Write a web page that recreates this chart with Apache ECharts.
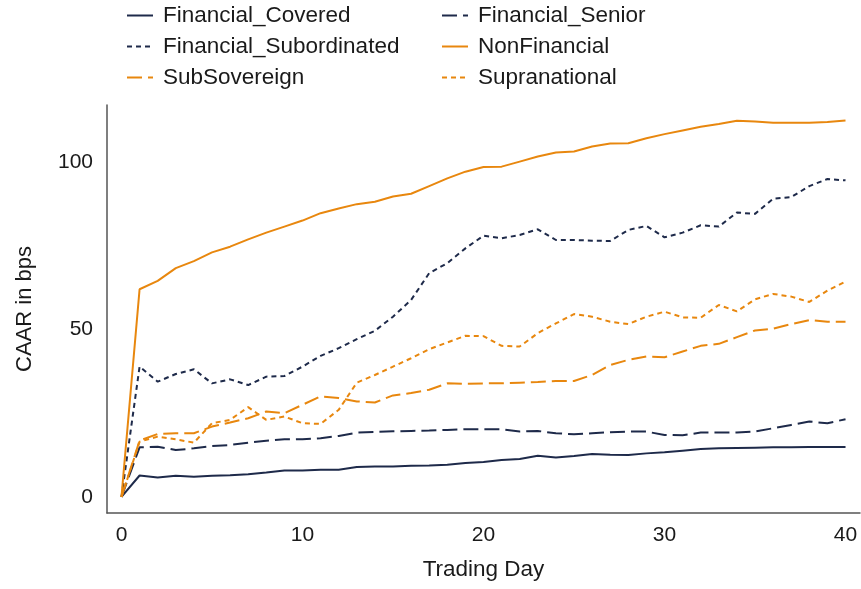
<!DOCTYPE html>
<html>
<head>
<meta charset="utf-8">
<script src="https://cdn.jsdelivr.net/npm/echarts@6/dist/echarts.min.js"></script>
<style>
  html, body { margin: 0; padding: 0; background: #fff; }
  #chart { width: 861px; height: 589px; }
</style>
</head>
<body>
<div id="chart"></div>
<script>
// trading days 0..40
const days = [0, 1, 2, 3, 4, 5, 6, 7, 8, 9, 10, 11, 12, 13, 14, 15, 16, 17, 18, 19, 20,
  21, 22, 23, 24, 25, 26, 27, 28, 29, 30, 31, 32, 33, 34, 35, 36, 37, 38, 39, 40];

const financialCovered = [0, 6.4, 5.8, 6.3, 6.0, 6.3, 6.5, 6.8, 7.3, 7.9, 7.9, 8.1, 8.1, 8.9, 9.1, 9.1, 9.3, 9.4, 9.6, 10.1, 10.4,
  11.0, 11.3, 12.3, 11.8, 12.2, 12.8, 12.6, 12.5, 13.0, 13.3, 13.8, 14.3, 14.5, 14.6, 14.7, 14.8, 14.8, 14.9, 14.9, 14.9];
const financialSenior = [0, 14.8, 15.0, 14.0, 14.5, 15.2, 15.5, 16.2, 16.8, 17.2, 17.2, 17.5, 18.2, 19.2, 19.4, 19.6, 19.7, 19.8, 20.0, 20.2, 20.2,
  20.2, 19.5, 19.7, 19.0, 18.7, 19.0, 19.3, 19.5, 19.5, 18.5, 18.4, 19.2, 19.2, 19.2, 19.5, 20.5, 21.5, 22.5, 22.0, 23.2];
const financialSubordinated = [0, 38.9, 34.4, 36.7, 38.1, 33.9, 35.1, 33.4, 35.9, 36.1, 38.9, 42.1, 44.4, 47.1, 49.6, 53.8, 58.8, 66.8, 69.8, 74.2, 78.0,
  77.2, 78.2, 79.9, 76.7, 76.7, 76.5, 76.4, 79.7, 80.9, 77.5, 78.9, 81.1, 80.7, 84.9, 84.5, 89.0, 89.5, 92.8, 94.9, 94.5];
const nonFinancial = [0, 62.0, 64.5, 68.3, 70.4, 73.0, 74.7, 76.9, 78.9, 80.7, 82.5, 84.7, 86.1, 87.4, 88.1, 89.7, 90.5, 92.8, 95.1, 97.1, 98.5,
  98.6, 100.1, 101.6, 102.8, 103.1, 104.6, 105.5, 105.6, 107.1, 108.3, 109.4, 110.5, 111.3, 112.3, 112.1, 111.7, 111.7, 111.7, 111.9, 112.4];
const subSovereign = [0, 16.8, 18.8, 19.0, 19.0, 21.0, 22.2, 23.5, 25.5, 25.0, 27.5, 30.0, 29.5, 28.5, 28.2, 30.3, 31.0, 32.0, 33.9, 33.8, 33.9,
  33.9, 34.1, 34.3, 34.6, 34.6, 36.4, 39.4, 40.9, 41.9, 41.7, 43.4, 45.1, 45.7, 47.7, 49.7, 50.2, 51.6, 52.8, 52.3, 52.3];
const supranational = [0, 16.5, 18.0, 17.2, 16.2, 22.0, 23.0, 26.8, 23.0, 24.0, 22.0, 21.8, 26.0, 34.1, 36.4, 38.9, 41.4, 44.1, 46.1, 48.1, 48.0,
  45.1, 44.9, 48.9, 51.8, 54.6, 53.8, 52.3, 51.6, 53.8, 55.3, 53.6, 53.5, 57.3, 55.4, 59.0, 60.6, 59.8, 58.2, 61.6, 64.3];

const xTicks = [0, 10, 20, 30, 40];
const yTicks = [0, 50, 100];

const NAVY = '#1e2a4a';
const ORANGE = '#e8870e';
const FONT = "'Liberation Sans', Arial, sans-serif";
const TEXT = '#1a1a1a';

const seriesDefs = [
  { name: 'Financial_Covered', values: financialCovered, color: NAVY, dash: 'solid' },
  { name: 'Financial_Senior', values: financialSenior, color: NAVY, dash: [15, 6] },
  { name: 'Financial_Subordinated', values: financialSubordinated, color: NAVY, dash: [5, 4] },
  { name: 'NonFinancial', values: nonFinancial, color: ORANGE, dash: 'solid' },
  { name: 'SubSovereign', values: subSovereign, color: ORANGE, dash: [15, 6] },
  { name: 'Supranational', values: supranational, color: ORANGE, dash: [5, 4] },
];

const chart = echarts.init(document.getElementById('chart'), null, { renderer: 'canvas' });

// legend in two columns, three rows
const legendBase = {
  orient: 'vertical',
  top: -1,
  itemWidth: 26,
  itemHeight: 16,
  itemGap: 8,
  itemStyle: { opacity: 0 },
  textStyle: { fontFamily: FONT, fontSize: 22.5, color: TEXT, padding: [0, 0, 0, 5] },
};

chart.setOption({
  backgroundColor: '#fff',
  animation: false,
  legend: [
    Object.assign({}, legendBase, { left: 121, data: ['Financial_Covered', 'Financial_Subordinated', 'SubSovereign'] }),
    Object.assign({}, legendBase, { left: 436, data: ['Financial_Senior', 'NonFinancial', 'Supranational'] }),
  ],
  grid: { left: 107, right: 1, top: 105, bottom: 76 },
  xAxis: {
    type: 'value',
    min: -0.8,
    max: 40.8,
    name: 'Trading Day',
    nameLocation: 'middle',
    nameGap: 45,
    nameTextStyle: { fontFamily: FONT, fontSize: 22.5, color: TEXT },
    axisLine: { show: true, onZero: false, lineStyle: { color: '#555', width: 1.5 } },
    axisTick: { show: false },
    splitLine: { show: false },
    axisLabel: {
      customValues: xTicks,
      margin: 12,
      fontFamily: FONT, fontSize: 21, color: TEXT,
    },
  },
  yAxis: {
    type: 'value',
    min: -4.8,
    max: 117,
    name: 'CAAR in bps',
    nameLocation: 'middle',
    nameGap: 71,
    nameTextStyle: { fontFamily: FONT, fontSize: 22, color: TEXT },
    axisLine: { show: true, onZero: false, lineStyle: { color: '#555', width: 1.5 } },
    axisTick: { show: false },
    splitLine: { show: false },
    axisLabel: {
      customValues: yTicks,
      margin: 14,
      fontFamily: FONT, fontSize: 21, color: TEXT,
    },
  },
  series: seriesDefs.map((s) => ({
    name: s.name,
    type: 'line',
    data: days.map((d, i) => [d, s.values[i]]),
    symbol: 'none',
    smooth: false,
    color: s.color,
    lineStyle: { color: s.color, width: 2, type: s.dash },
    itemStyle: { color: s.color },
  })),
});
</script>
</body>
</html>
